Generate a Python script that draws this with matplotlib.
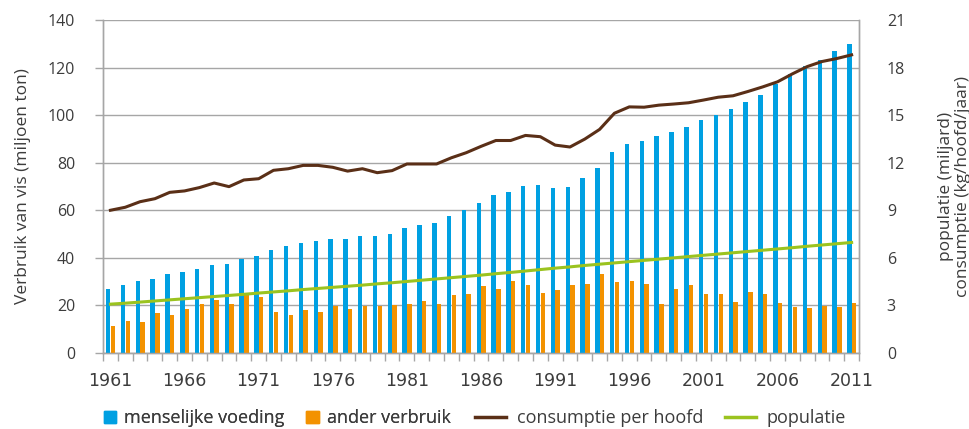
import numpy as np
import matplotlib
matplotlib.use("Agg")
import matplotlib.pyplot as plt
from matplotlib.patches import Patch
from matplotlib.lines import Line2D

# data
years = list(range(1961, 2012))
voeding = [27.1, 28.5, 30.1, 31.0, 33.0, 34.1, 35.5, 37.2, 37.5, 39.4,
           40.8, 43.4, 44.9, 46.4, 47.1, 47.8, 47.8, 49.0, 49.0, 50.2,
           52.7, 53.7, 54.8, 57.8, 60.0, 63.2, 66.4, 67.7, 70.3, 70.6,
           69.2, 69.9, 73.4, 77.9, 84.6, 88.0, 89.2, 91.2, 92.9, 95.1,
           98.0, 99.9, 102.5, 105.7, 108.5, 113.0, 117.5, 120.7, 123.2, 127.0,
           130.1]
ander = [11.2, 13.3, 13.0, 16.6, 15.8, 18.7, 20.6, 22.1, 20.7, 24.3,
         23.6, 17.1, 15.8, 17.9, 17.1, 19.9, 18.7, 19.9, 19.9, 20.1,
         20.6, 21.7, 20.8, 24.5, 24.6, 28.3, 26.7, 30.1, 28.7, 25.3,
         26.4, 28.7, 29.2, 33.3, 29.9, 30.3, 28.8, 20.7, 26.9, 28.4,
         24.8, 25.0, 21.5, 25.5, 24.8, 21.0, 19.3, 19.0, 19.9, 19.4,
         21.0]
consumptie = [9.0, 9.19, 9.54, 9.73, 10.13, 10.22, 10.43, 10.72, 10.49, 10.91,
              10.99, 11.52, 11.62, 11.83, 11.83, 11.71, 11.47, 11.62, 11.37, 11.5,
              11.92, 11.92, 11.92, 12.31, 12.63, 13.03, 13.40, 13.40, 13.72, 13.64,
              13.11, 12.99, 13.49, 14.10, 15.12, 15.52, 15.50, 15.63, 15.70, 15.78,
              15.95, 16.13, 16.22, 16.49, 16.78, 17.1, 17.6, 18.06, 18.38, 18.57,
              18.8]
populatie = [3.08, 3.14, 3.21, 3.28, 3.35, 3.42, 3.49, 3.56, 3.63, 3.70,
             3.78, 3.85, 3.92, 4.00, 4.07, 4.14, 4.21, 4.28, 4.36, 4.43,
             4.51, 4.59, 4.67, 4.75, 4.83, 4.91, 5.00, 5.08, 5.17, 5.26,
             5.35, 5.43, 5.52, 5.60, 5.68, 5.76, 5.84, 5.92, 6.00, 6.08,
             6.16, 6.24, 6.32, 6.40, 6.48, 6.56, 6.64, 6.73, 6.81, 6.89,
             6.97]
year_labels = [1961, 1966, 1971, 1976, 1981, 1986, 1991, 1996, 2001, 2006, 2011]

BLUE = "#00A0E2"
ORANGE = "#F39200"
BROWN = "#5A2F17"
GREEN = "#9BC31F"
GRID = "#A6A6A6"
TXT = "#3C3C3C"

plt.rcParams["font.family"] = ["Open Sans", "DejaVu Sans"]

fig = plt.figure(figsize=(9.7, 4.29), dpi=100)
ax = fig.add_axes([0.1062, 0.1772, 0.7794, 0.7762])
ax2 = ax.twinx()

x = np.arange(len(years))
ax.bar(x - 0.15, voeding, width=0.3, color=BLUE, zorder=3)
ax.bar(x + 0.17, ander, width=0.3, color=ORANGE, zorder=3)

ax2.plot(x, consumptie, color=BROWN, lw=2.2, zorder=4)
ax2.plot(x, populatie, color=GREEN, lw=2.2, zorder=4)

ax.set_xlim(-0.5, len(years) - 0.5)
ax.set_ylim(0, 140)
ax2.set_ylim(0, 21)
ax.set_yticks(range(0, 141, 20))
ax2.set_yticks(range(0, 22, 3))

# ticks at category boundaries, labels at centres
ax.set_xticks(np.arange(-0.5, len(years)), minor=False)
ax.set_xticklabels([])
ax.set_xticks([years.index(y) for y in year_labels], minor=True)
ax.set_xticklabels([str(y) for y in year_labels], minor=True,
                   family=["Liberation Sans Narrow", "DejaVu Sans"], fontsize=12.5)
ax.tick_params(axis="x", which="major", length=6, color=GRID, width=1)
ax.tick_params(axis="x", which="minor", length=0, pad=13.5, colors=TXT)
ax.tick_params(axis="y", length=6, color=GRID, width=1, labelsize=11.5,
               labelcolor=TXT, pad=14)
ax2.tick_params(axis="y", length=0, labelsize=11.5, labelcolor=TXT, pad=20)

ax.yaxis.grid(True, color=GRID, lw=1, zorder=0)
ax.set_axisbelow(True)
for a in (ax, ax2):
    a.spines["top"].set_visible(False)
    for s in ("left", "right", "bottom"):
        a.spines[s].set_color(GRID)
        a.spines[s].set_linewidth(1)

ax.set_ylabel("Verbruik van vis (miljoen ton)", fontsize=12.5, color=TXT, labelpad=12)
ax2.set_ylabel("populatie (miljard)\nconsumptie (kg/hoofd/jaar)", fontsize=12.5,
               color=TXT, labelpad=24, linespacing=1.05)

# legend in two parts: square handles for bars, longer strokes for lines
bar_leg = fig.legend([Patch(color=BLUE), Patch(color=ORANGE)],
                     ["menselijke voeding", "ander verbruik"],
                     loc="center left", bbox_to_anchor=(0.090, 0.025), ncol=2,
                     frameon=False, fontsize=13, handlelength=0.7, handleheight=0.7,
                     handletextpad=0.44, columnspacing=1.2, labelcolor=TXT)
fig.add_artist(bar_leg)
fig.legend([Line2D([], [], color=BROWN, lw=2.5), Line2D([], [], color=GREEN, lw=2.5)],
           ["consumptie per hoofd", "populatie"],
           loc="center left", bbox_to_anchor=(0.473, 0.025), ncol=2,
           frameon=False, fontsize=13, handlelength=1.72,
           handletextpad=0.6, columnspacing=1.2, labelcolor=TXT)

fig.savefig("out.png", dpi=100)
